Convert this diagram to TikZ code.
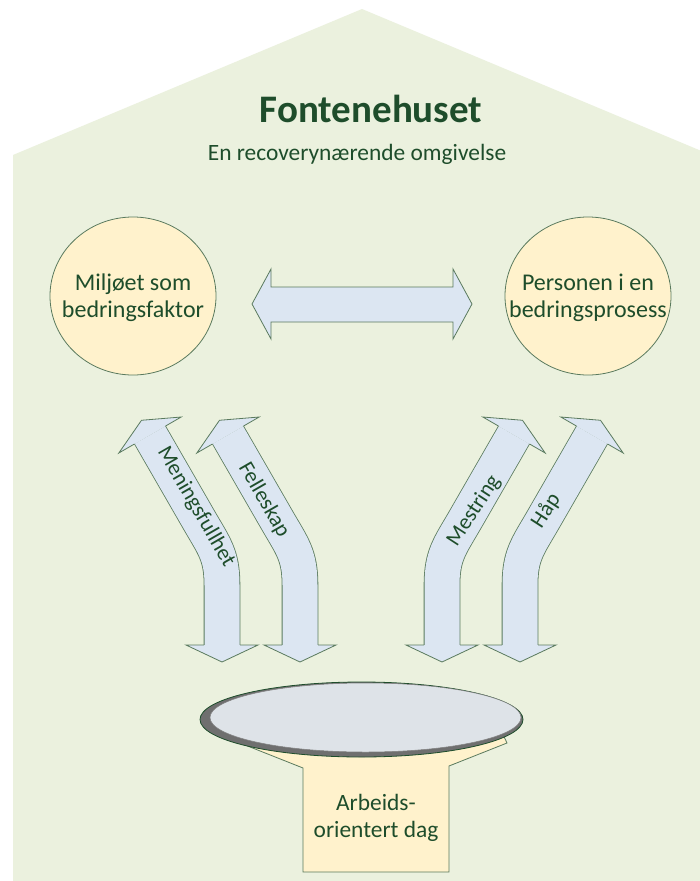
\documentclass[tikz,border=0pt]{standalone}
\usepackage{fontspec}
\setmainfont{Carlito}
\definecolor{housegreen}{HTML}{EBF1DE}
\definecolor{txtgreen}{HTML}{1E4D2B}
\definecolor{ballfill}{HTML}{FFF2CC}
\definecolor{arrowfill}{HTML}{DCE6F2}
\definecolor{edgegreen}{HTML}{5A7A5E}
\definecolor{rimgray}{HTML}{6F6F6F}
\definecolor{bowlfill}{HTML}{DEE3E8}

\begin{document}
\begin{tikzpicture}[x=1pt,y=-1pt,
  ball/.style={draw=edgegreen,fill=ballfill,line width=0.8pt},
  balltext/.style={align=center,text=txtgreen,font=\fontsize{24}{27}\selectfont},
  lbl/.style={text=txtgreen,font=\fontsize{22}{27}\selectfont},
  shaft/.style={draw=edgegreen,line width=0.8pt,double=arrowfill,double distance=35pt},
  headtip/.pic={\filldraw[draw=edgegreen,fill=arrowfill,line width=0.8pt]
    (-18,0) -- (-36,0) -- (0,17) -- (36,0) -- (18,0);}]
\useasboundingbox (0,0) rectangle (700,881);
\fill[white] (0,0) rectangle (700,881);

% the house
\fill[housegreen] (13,881) -- (13,155) -- (362,9) -- (700,150.4) -- (700,881) -- cycle;

\node[text=txtgreen,font=\fontsize{39}{44}\selectfont\bfseries,anchor=base] (title) at (371,122) {Fontenehuset};
\node[text=txtgreen,font=\fontsize{23.4}{27}\selectfont,anchor=base] (subtitle) at (357,160) {En recoverynærende omgivelse};

% the two circles
\filldraw[ball] (133,296) ellipse [x radius=83,y radius=79];
\filldraw[ball] (588,296) ellipse [x radius=83,y radius=79];
\node[balltext] (miljo) at (133,298) {Miljøet som\\bedringsfaktor};
\node[balltext] (person) at (588,298) {Personen i en\\bedringsprosess};

\filldraw[draw=edgegreen,fill=arrowfill,line width=0.8pt] (252,304) -- (271,269) -- (271,287) -- (453,287)
  -- (453,269) -- (472,304) -- (453,339) -- (453,322) -- (271,322) -- (271,339) -- cycle;

% bent arrows, left pair
\foreach \dx in {0,78} {
  \draw[shaft] (222+\dx,645) -- (222+\dx,585) .. controls (222+\dx,555) and (214+\dx,546) .. (199+\dx,520) -- (150+\dx,435);
  \pic at (222+\dx,645) {headtip};
  \pic[rotate=210] at (150+\dx,435) {headtip};
}
% right pair, mirrored
\begin{scope}[xshift=742pt,xscale=-1]
\foreach \dx in {0,78} {
  \draw[shaft] (222+\dx,645) -- (222+\dx,585) .. controls (222+\dx,555) and (214+\dx,546) .. (199+\dx,520) -- (150+\dx,435);
}
\end{scope}
\foreach \bx/\tx in {442/514,520/592} {
  \pic at (\bx,645) {headtip};
  \pic[rotate=150] at (\tx,435) {headtip};
}

\node[lbl,rotate=-60] (mening) at (196,507) {Meningsfullhet};
\node[lbl,rotate=-60] (felles) at (264,500) {Felleskap};
\node[lbl,rotate=57] (mestring) at (474,511) {Mestring};
\node[lbl,rotate=57] (haap) at (546,511) {Håp};

% the fountain
\filldraw[draw=edgegreen,fill=ballfill,line width=0.8pt] (246,728) -- (240,743) -- (303,768) -- (303,872)
  -- (449,872) -- (449,766) -- (507,743) -- (500,728) -- cycle;
\filldraw[draw=txtgreen,fill=rimgray,line width=0.8pt] (361.5,719.5) ellipse [x radius=161.5,y radius=37.5];
\filldraw[draw=gray,fill=bowlfill,line width=0.5pt] (365.5,717.5) ellipse [x radius=155.5,y radius=34.5];
\node[lbl,align=center,font=\fontsize{23.4}{27}\selectfont] (dag) at (376,818) {Arbeids-\\orientert dag};
\end{tikzpicture}
\end{document}
